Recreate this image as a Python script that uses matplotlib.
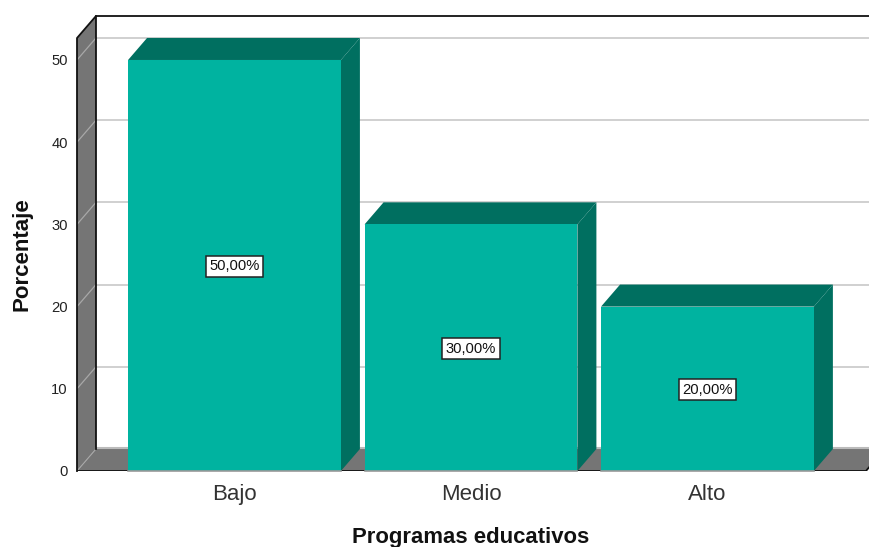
import matplotlib
matplotlib.use("Agg")
import matplotlib.pyplot as plt
from matplotlib.patches import Polygon

categories = ["Bajo", "Medio", "Alto"]
values = [50, 30, 20]
labels = ["50,00%", "30,00%", "20,00%"]
yticks = [0, 10, 20, 30, 40, 50]
xlabel = "Programas educativos"
ylabel = "Porcentaje"

TEAL, DARK, WALL, GRID = "#00B3A0", "#006F60", "#757575", "#C8C8C8"
W, H = 869, 547
plt.rcParams["font.family"] = ["Liberation Sans", "DejaVu Sans"]
fig = plt.figure(figsize=(W / 100, H / 100), dpi=100, facecolor="white")
ax = fig.add_axes([77 / W, (H - 471) / H, (W - 77) / W, (471 - 16) / H])
ax.set_xlim(-0.666, 2.683)
ax.set_ylim(0, 55.35)
for s in ax.spines.values():
    s.set_visible(False)

dx, dy = 0.0803, 2.68
x0, x1 = -0.666, 2.67
ytop = 52.67

def poly(pts, fc, z, ec="none", lw=0):
    ax.add_patch(Polygon(pts, closed=True, fc=fc, ec=ec, lw=lw, zorder=z, clip_on=False))

# walls
poly([(x0, 0), (x0 + dx, dy), (x0 + dx, ytop + dy), (x0, ytop)], WALL, 1)
poly([(x0, 0), (x1, 0), (x1 + dx, dy), (x0 + dx, dy)], WALL, 1)
# grid lines
for v in yticks[1:]:
    ax.plot([x0 + dx, 2.70], [v + dy, v + dy], color=GRID, lw=1.2, zorder=1.5)
    ax.plot([x0, x0 + dx], [v, v + dy], color="#A8A8A8", lw=0.9, zorder=1.5)
ax.plot([x0, x0 + dx], [0, dy], color="#A8A8A8", lw=0.8, zorder=1.5)
ax.plot([x0 + dx, 2.70], [dy + .1, dy + .1], color="#BBBBBB", lw=1.5, zorder=1.5)
# outlines
ax.plot([x0, x0, x0 + dx, x0 + dx], [0, ytop, ytop + dy, dy], color="#111111", lw=1.3, zorder=2, clip_on=False)
ax.plot([x0 + dx, 2.70], [ytop + dy, ytop + dy], color="#111111", lw=1.3, zorder=2, clip_on=False)
ax.plot([x0, x1, x1 + dx], [0, 0, dy], color="#111111", lw=1.3, zorder=2, clip_on=True)

# bars
bw = 0.9
bars = ax.bar(range(len(values)), values, width=bw, color=TEAL, linewidth=0, zorder=4)
for i, (rect, v) in enumerate(zip(bars, values)):
    l, r = rect.get_x(), rect.get_x() + rect.get_width()
    poly([(l, v), (r, v), (r + dx, v + dy), (l + dx, v + dy)], DARK, 3)
    poly([(r, 0), (r + dx, dy), (r + dx, v + dy), (r, v)], DARK, 3)
    ax.text(i, v / 2 - 0.1, labels[i], ha="center", va="center", fontsize=10.6, color="#111111", zorder=6,
            bbox=dict(boxstyle="square,pad=0.25", fc="white", ec="#222222", lw=1.1))
    ax.plot([l, r], [0, 0], color="#999999", lw=1.2, zorder=5, clip_on=False)

ax.set_xticks(range(len(categories)), categories, fontsize=16, color="#333333")
ax.set_yticks(yticks, [str(v) for v in yticks], fontsize=10.6, color="#222222")
ax.tick_params(axis="both", length=0)
ax.tick_params(axis="y", pad=6.5)
ax.tick_params(axis="x", pad=9.5)
fig.text(470.5 / W, 1 - 537 / H, xlabel, ha="center", va="center", fontsize=15.9, fontweight="bold", color="#111111")
fig.text(22 / W, 1 - 254 / H, ylabel, ha="center", va="center", rotation=90, fontsize=16, fontweight="bold", color="#111111")
fig.savefig("out.png", dpi=100)
